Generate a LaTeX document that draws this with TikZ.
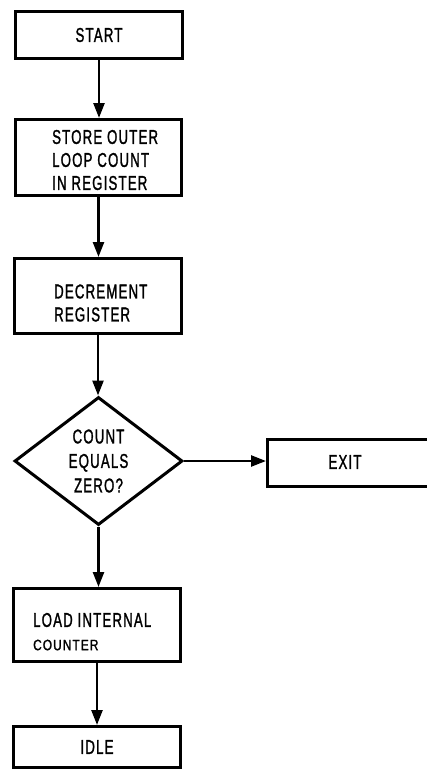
\documentclass[tikz,border=0pt]{standalone}
\usepackage{fontspec}
\setmainfont{Liberation Sans}[FakeStretch=0.66,FakeBold=1.3,LetterSpace=6]
\usepackage{graphicx}
\usetikzlibrary{shapes.geometric,arrows.meta}
\begin{document}
\begin{tikzpicture}[x=1pt,y=-1pt,
  box/.style={draw, line width=3pt, inner sep=0pt, font=\fontsize{20}{23}\selectfont},
  txt/.style={inner sep=0pt, align=left, font=\fontsize{20}{23}\selectfont},
  arr/.style={line width=2.5pt, -{Triangle[length=15pt,width=11pt]}}]
\useasboundingbox (0,0) rectangle (427,772);
\clip (0,0) rectangle (427,772);
\fill[white] (0,0) rectangle (427,772);
% boxes
\node[box, minimum width=167pt, minimum height=47pt] (start) at (99,35) {START};
\node[box, minimum width=166pt, minimum height=76pt] (store) at (98.5,157.5) {};
\node[txt, anchor=west] (storetxt) at (52,160) {STORE OUTER\\LOOP COUNT\\IN REGISTER};
\node[box, minimum width=167pt, minimum height=75pt] (decr) at (98,296) {};
\node[txt, anchor=west] (decrtxt) at (54,303) {DECREMENT\\REGISTER};
\node[diamond, draw, line width=3pt, inner sep=0pt, minimum width=168pt, minimum height=128pt,
      align=center, font=\fontsize{20}{24.5}\selectfont] (count) at (98.5,461) {COUNT\\EQUALS\\ZERO?};
\node[box, minimum width=165pt, minimum height=47pt] (exit) at (350,463) {};
\node[txt] (exittxt) at (345,462) {EXIT};
\node[box, minimum width=167pt, minimum height=73pt] (load) at (97,625) {};
\node[txt, anchor=west] (loadtxt) at (33,620) {LOAD INTERNAL};
\node[txt, anchor=west, font=\fontsize{15}{18}\selectfont] (loadtxt2) at (33,645) {\scalebox{1.2}[1]{COUNTER}};
\node[box, minimum width=167pt, minimum height=41pt] (idle) at (97,747) {IDLE};
% connectors
\draw[arr] (start.south) -- (start.south |- store.north);
\draw[arr] (store.south) -- (store.south |- decr.north);
\draw[arr] (decr.south) -- (decr.south |- count.north);
\draw[arr] (count.east) -- (count.east -| exit.west);
\draw[arr] (count.south) -- (count.south |- load.north);
\draw[arr] (load.south) -- (load.south |- idle.north);
\end{tikzpicture}
\end{document}
